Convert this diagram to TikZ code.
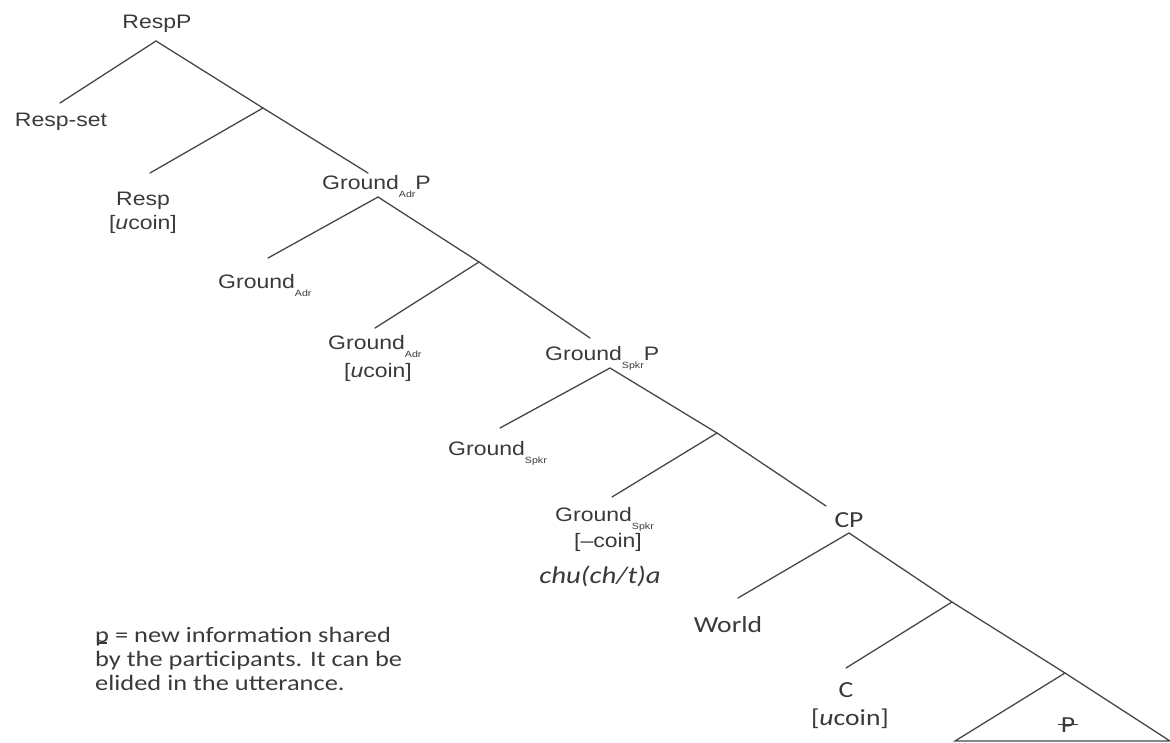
\documentclass[tikz,border=0pt]{standalone}
\usepackage{fontspec}
\setmainfont{Liberation Sans}[FakeStretch=1.18]
\newfontfamily\calfont{Carlito}[FakeStretch=1.2]
\definecolor{ink}{HTML}{3A3A3A}
\definecolor{branch}{HTML}{474747}
% small lowered index, e.g. Ground_Adr
\newcommand\idx[1]{\raisebox{-0.42em}{\fontsize{9}{9}\selectfont #1}}
% letters with a stroke: the bar is centred on the letter's width
\newcommand\strokeletter[4]{\leavevmode\setbox0\hbox{#1}%
  \rlap{\copy0}\hbox to\wd0{\hss\rule[#2]{#3}{#4}\hss}}
\newcommand\strokeP{\strokeletter{P}{0.3em}{0.9em}{0.07em}}
\newcommand\strokep{\strokeletter{p}{-0.09em}{0.45em}{0.07em}}
\begin{document}
\begin{tikzpicture}[x=1pt,y=-1pt,
  lab/.style={inner sep=0, text=ink, font=\fontsize{19.5}{22}\selectfont},
  cab/.style={inner sep=0, text=ink, font=\calfont\fontsize{23}{26}\selectfont},
  note/.style={inner sep=0, text=ink, font=\calfont\fontsize{22}{24}\selectfont, anchor=base west},
  branchline/.style={draw=branch, line width=1.3pt, line cap=round, line join=miter}]
\useasboundingbox (0,0) rectangle (1170,742);

% ---- labels ----
\node[lab, anchor=base] (respP) at (157,28) {RespP};
\node[lab, anchor=base] (respset) at (61,126) {Resp-set};
\node[lab, anchor=base] (resp) at (143,205) {Resp};
\node[lab, anchor=base] (respf) at (143,229) {[\emph{u}coin]};

\node[lab, anchor=base west] (gadrP) at (322,189) {Ground\idx{Adr}P};
\node[lab, anchor=base west] (gadrspec) at (218,288) {Ground\idx{Adr}};
\node[lab, anchor=base west] (gadrhead) at (328,349) {Ground\idx{Adr}};
\node[lab, anchor=base] (gadrf) at (378,377) {[\emph{u}coin]};

\node[lab, anchor=base west] (gspkP) at (545,360) {Ground\idx{Spkr}P};
\node[lab, anchor=base west] (gspkspec) at (448,455) {Ground\idx{Spkr}};
\node[lab, anchor=base west] (gspkhead) at (555,521) {Ground\idx{Spkr}};
\node[lab, anchor=base] (gspkf) at (608,547) {[--coin]};
\node[cab, anchor=base, font=\calfont\itshape\fontsize{24}{26}\selectfont] (chuta) at (600,583) {chu(ch/t)a};

\node[cab, anchor=base] (cp) at (849,527) {CP};
\node[cab, anchor=base] (world) at (728,632) {World};
\node[cab, anchor=base] (c) at (846,697) {C};
\node[cab, anchor=base] (cf) at (850,725) {[\emph{u}coin]};
\node[cab, anchor=base] (pel) at (1068,732) {\strokeP};

\node[note] (note1) at (95,642) {\strokep\ = new information shared};
\node[note] (note2) at (95,666) {by the participants. It can be};
\node[note] (note3) at (95,690) {elided in the utterance.};

% ---- branching points ----
\coordinate (a1) at (156,41);   \coordinate (i1) at (263,108);
\coordinate (l1) at (60,103);   \coordinate (h1) at (150,173);
\coordinate (e1) at (368,173);
\coordinate (a2) at (378,197);  \coordinate (i2) at (479,262);
\coordinate (l2) at (268,258);  \coordinate (h2) at (375,328);
\coordinate (e2) at (590,338);
\coordinate (a3) at (610,368);  \coordinate (i3) at (717,433);
\coordinate (l3) at (500,428);  \coordinate (h3) at (612,497);
\coordinate (e3) at (826,506);
\coordinate (a4) at (849,533);  \coordinate (i4) at (952,602);
\coordinate (l4) at (738,598);  \coordinate (h4) at (846,668);
\coordinate (t0) at (1065,673); \coordinate (tl) at (955,741);
\coordinate (tr) at (1170,741);

% ---- branches ----
\draw[branchline] (l1) -- (a1) -- (i1) -- (e1);
\draw[branchline] (h1) -- (i1);
\draw[branchline] (l2) -- (a2) -- (i2) -- (e2);
\draw[branchline] (h2) -- (i2);
\draw[branchline] (l3) -- (a3) -- (i3) -- (e3);
\draw[branchline] (h3) -- (i3);
\draw[branchline] (l4) -- (a4) -- (i4) -- (t0);
\draw[branchline] (h4) -- (i4);
% collapsed constituent
\draw[branchline, line cap=butt] (t0) -- (tl) -- (tr) -- cycle;
\end{tikzpicture}
\end{document}
